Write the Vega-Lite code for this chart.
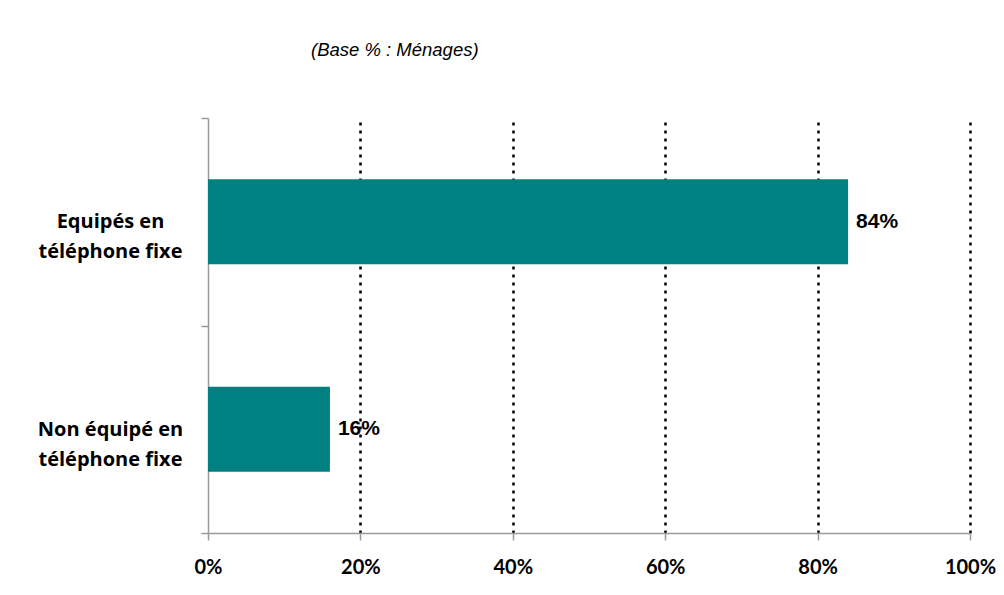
{
  "$schema": "https://vega.github.io/schema/vega-lite/v6.json",
  "width": 762,
  "height": 415,
  "autosize": {"type": "none"},
  "padding": {"left": 208, "top": 118, "right": 34, "bottom": 62},
  "background": "white",
  "title": {
    "text": "(Base % : Ménages)",
    "anchor": "start",
    "frame": "group",
    "dx": 103,
    "offset": 34,
    "baseline": "alphabetic",
    "font": "Liberation Sans",
    "fontSize": 18.5,
    "fontStyle": "italic",
    "fontWeight": "normal",
    "color": "#000000"
  },
  "data": {
    "values": [
      {"categorie": "Equipés en téléphone fixe", "part": 0.84},
      {"categorie": "Non équipé en téléphone fixe", "part": 0.16}
    ]
  },
  "config": {
    "view": {"stroke": null}
  },
  "encoding": {
    "y": {
      "field": "categorie",
      "type": "nominal",
      "sort": null,
      "scale": {"paddingInner": 0, "paddingOuter": 0},
      "axis": {
        "title": null,
        "tickBand": "extent",
        "domainColor": "#9a9a9a",
        "domainWidth": 1.5,
        "tickColor": "#9a9a9a",
        "tickWidth": 1.5,
        "tickSize": 7,
        "labelAlign": "center",
        "labelBaseline": "middle",
        "labelPadding": 91,
        "labelFont": "Open Sans",
        "labelFontWeight": "bold",
        "labelFontSize": 20,
        "labelColor": "#000000",
        "labelLineHeight": 30,
        "labelLimit": 300,
        "labelExpr": "datum.value == 'Equipés en téléphone fixe' ? ['Equipés en', 'téléphone fixe'] : (datum.value == 'Non équipé en téléphone fixe' ? ['Non équipé en', 'téléphone fixe'] : '')"
      }
    },
    "x": {
      "field": "part",
      "type": "quantitative",
      "scale": {"domain": [0, 1], "nice": false},
      "axis": {
        "title": null,
        "values": [0, 0.2, 0.4, 0.6, 0.8, 1],
        "format": ".0%",
        "grid": true,
        "gridColor": "#000000",
        "gridDash": [3, 5],
        "gridWidth": 2.5,
        "gridOpacity": {"condition": {"test": "datum.value === 0", "value": 0}, "value": 1},
        "domainColor": "#9a9a9a",
        "domainWidth": 1.5,
        "tickColor": "#9a9a9a",
        "tickWidth": 1.5,
        "tickSize": 7,
        "labelFlush": false,
        "labelDx": -3,
        "labelFont": "Lato",
        "labelFontWeight": "bold",
        "labelFontSize": 20,
        "labelColor": "#000000",
        "labelPadding": 17
      }
    }
  },
  "layer": [
    {
      "mark": {"type": "bar", "color": "#008080", "height": {"band": 0.41}}
    },
    {
      "mark": {
        "type": "text",
        "align": "left",
        "baseline": "middle",
        "dx": 8,
        "font": "Liberation Sans",
        "fontWeight": "bold",
        "fontSize": 21,
        "color": "#000000"
      },
      "encoding": {
        "text": {"field": "part", "type": "quantitative", "format": ".0%"}
      }
    }
  ]
}
